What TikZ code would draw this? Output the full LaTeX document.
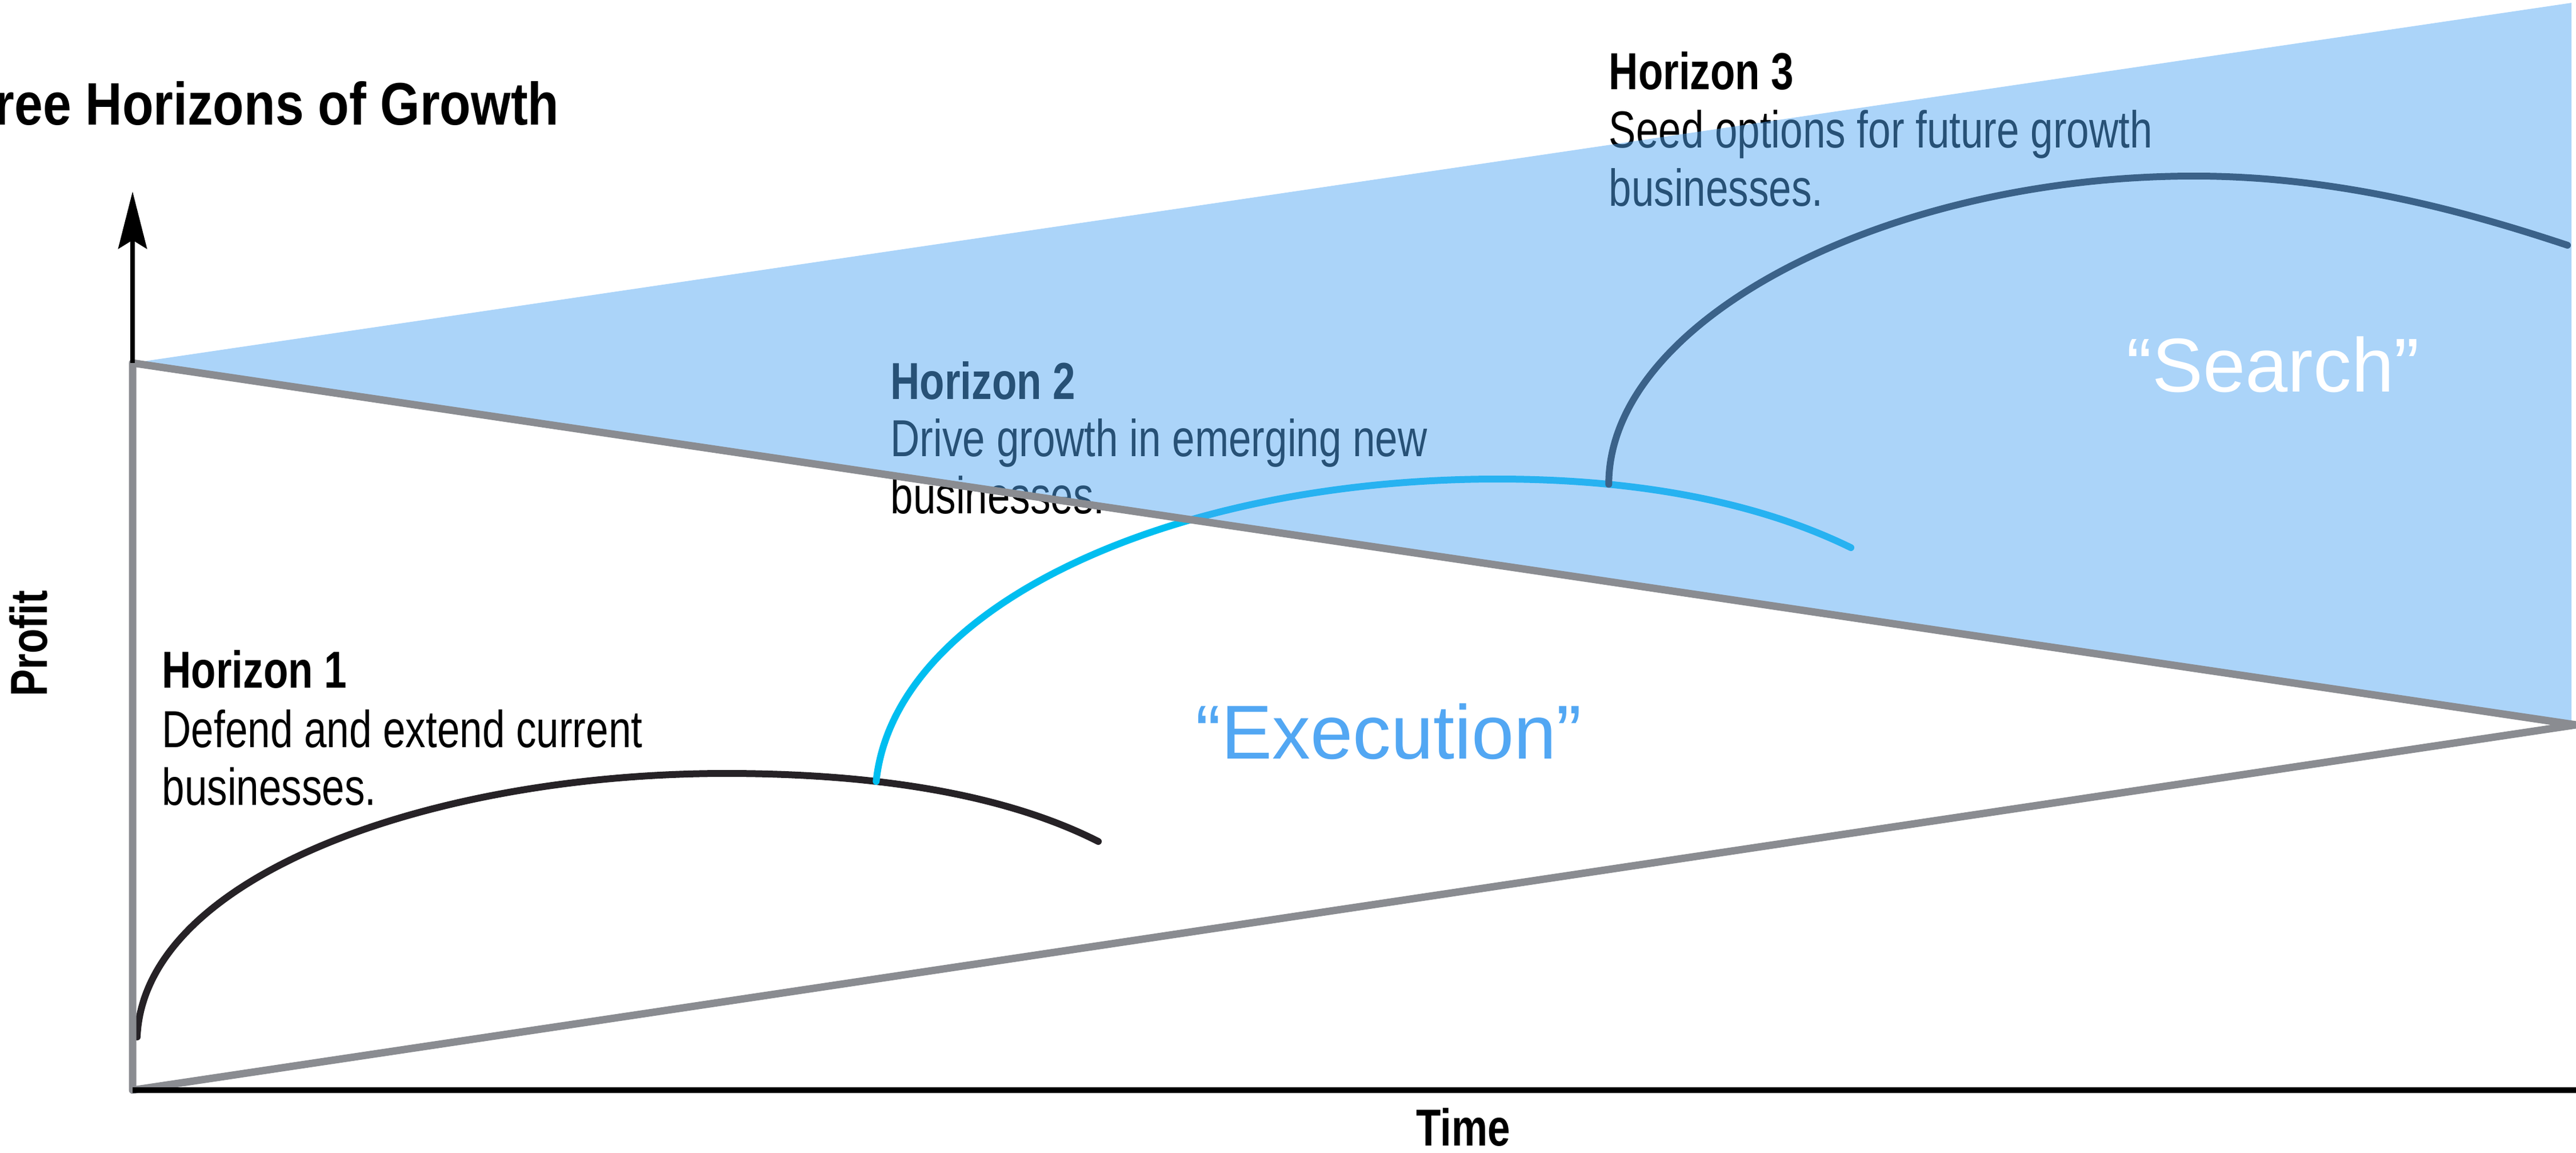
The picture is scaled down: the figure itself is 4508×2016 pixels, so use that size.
\documentclass[tikz,border=0pt]{standalone}
\usepackage{fontspec}
\setmainfont{Liberation Sans}
\newfontfamily\condfont[FakeStretch=0.78]{Liberation Sans}
\newfontfamily\titlefont[FakeStretch=0.85]{Liberation Sans}
\usetikzlibrary{arrows.meta}
\definecolor{hblue}{RGB}{82,167,243}
\definecolor{hgray}{RGB}{138,140,145}
\definecolor{hcyan}{RGB}{0,190,240}
\definecolor{hdark}{RGB}{38,34,38}

\begin{document}
\begin{tikzpicture}[x=0.1mm,y=-0.1mm,
    frame/.style={draw=hgray,line width=1.3mm,line join=round},
    axis/.style={draw=black,line width=1mm},
    growth/.style={line width=1.2mm,line cap=round},
    headtxt/.style={anchor=base west,inner sep=0pt,font=\condfont\bfseries\fontsize{25.9}{28.7}\selectfont},
    bodytxt/.style={anchor=base west,inner sep=0pt,font=\condfont\fontsize{25.9}{28.7}\selectfont},
    bigtxt/.style={anchor=base west,inner sep=0pt,font=\fontsize{38}{40}\selectfont}]
  \path[use as bounding box,clip] (0,0) rectangle (4508,2016);

  \coordinate (apex) at (232,635);
  \coordinate (origin) at (232,1907);
  \coordinate (meet) at (4508,1268);
  \coordinate (xend) at (4508,1907);
  \coordinate (ytip) at (232,335);

  % horizon texts
  \node[headtxt] (h1head) at (283,1203) {Horizon 1};
  \node[bodytxt] (h1a) at (283,1307) {Defend and extend current};
  \node[bodytxt] (h1b) at (283,1408) {businesses.};
  \node[headtxt] (h2head) at (1558,698) {Horizon 2};
  \node[bodytxt] (h2a) at (1558,798) {Drive growth in emerging new};
  \node[bodytxt] (h2b) at (1558,898) {businesses.};
  \node[headtxt] (h3head) at (2815,157) {Horizon 3};
  \node[bodytxt] (h3a) at (2815,258) {Seed options for future growth};
  \node[bodytxt] (h3b) at (2815,360) {businesses.};

  % the three curves, each one grows out of the one before
  \draw[growth,hdark] (240,1814) .. controls (252,1530) and (760,1353) .. (1270,1353)
    .. controls (1600,1353) and (1800,1410) .. coordinate[pos=0.3] (h2root) (1922,1472);
  \draw[growth,hcyan] (h2root) .. controls (1565,1060) and (2050,838) .. (2620,838)
    .. controls (2900,838) and (3100,890) .. coordinate[pos=0.25] (h3root) (3239,958);
  \draw[growth,hdark] (h3root) .. controls (2815,560) and (3300,308) .. (3840,308)
    .. controls (4100,308) and (4330,375) .. (4493,429);

  % search zone
  \fill[hblue,fill opacity=0.485] (apex) -- (4500,5) -- (4500,1265) -- cycle;
  \draw[frame] (origin) -- (meet) -- (apex) -- cycle;

  % axes
  \draw[axis] (origin) -- (xend);
  \draw[axis,line width=0.8mm,-{Stealth[length=10mm,width=5mm,inset=1.5mm]}] (apex) -- (ytip);

  \node[bigtxt,text=hblue] (exec) at (2092,1327) {“Execution”};
  \node[bigtxt,text=white] (search) at (3721,685) {“Search”};

  \node[anchor=base east,inner sep=0pt,font=\titlefont\bfseries\fontsize{29.9}{32}\selectfont] (title) at (979,219) {Three Horizons of Growth};
  \node[rotate=90,inner sep=0pt,font=\condfont\bfseries\fontsize{25.9}{28.7}\selectfont] (ylab) at (50,1126) {Profit};
  \node[anchor=base,inner sep=0pt,font=\condfont\bfseries\fontsize{25.9}{28.7}\selectfont] (xlab) at (2561,2004) {Time};
\end{tikzpicture}
\end{document}
